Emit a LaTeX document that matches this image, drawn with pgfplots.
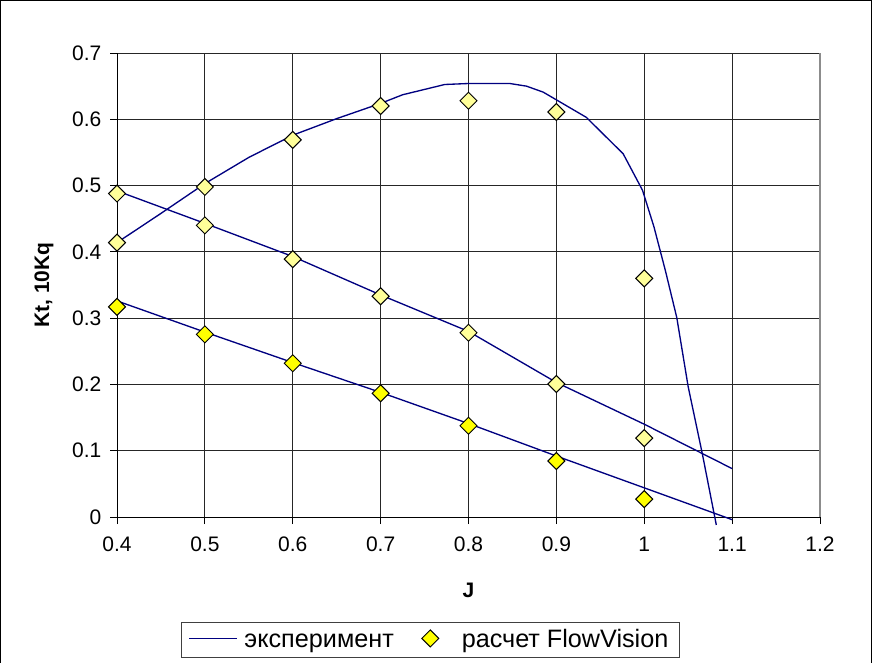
\documentclass[border=0pt]{standalone}
\usepackage{fontspec}
\setmainfont{Liberation Sans}
\usepackage{pgfplots}
\pgfplotsset{compat=1.18}
\definecolor{navyline}{RGB}{0,0,128}
\definecolor{brightyel}{RGB}{255,255,0}
\definecolor{paleyel}{RGB}{255,255,153}
\begin{document}
\fontsize{15.75}{18}\selectfont
\begin{tikzpicture}[x=1pt,y=1pt]
\path[use as bounding box] (0,0) rectangle (654,496.5);
\draw[line width=0.75pt] (0.6,-5) -- (0.6,495.9) -- (653.4,495.9) -- (653.4,-5);
\begin{axis}[
  at={(87.75pt,108.75pt)}, anchor=south west,
  scale only axis, width=527.25pt, height=348pt,
  xmin=0.4, xmax=1.2, ymin=0, ymax=0.7,
  clip=false,
  axis lines*=left,
  axis line style={black, line width=0.75pt},
  xtick={0.4,0.5,0.6,0.7,0.8,0.9,1.0,1.1,1.2},
  xticklabels={0.4,0.5,0.6,0.7,0.8,0.9,1,1.1,1.2},
  ytick={0,0.1,0.2,0.3,0.4,0.5,0.6,0.7},
  yticklabels={0,0.1,0.2,0.3,0.4,0.5,0.6,0.7},
  tick align=outside,
  major tick length=5.25pt,
  tick style={black, line width=0.75pt},
  grid=major,
  major grid style={black!85, line width=0.75pt},
  ticklabel style={font=\fontsize{15.75}{18}\selectfont},
  xticklabel style={anchor=north, yshift=-4pt},
  yticklabel style={anchor=east, xshift=-1pt},
  xlabel={\textbf{J}},
  ylabel={\textbf{Kt, 10Kq}},
  xlabel style={at={(axis description cs:0.5,-0.1573)}, anchor=center, font=\fontsize{15.75}{18}\selectfont},
  ylabel style={at={(axis description cs:-0.1038,0.5)}, anchor=center, font=\fontsize{15.75}{18}\selectfont},
  legend columns=2,
  legend style={at={(axis description cs:0.091,-0.2263)}, anchor=north west,
    draw=black!75, line width=0.75pt, font=\fontsize{18.9}{22}\selectfont,
    inner xsep=0pt, inner ysep=5pt,
    nodes={inner sep=0pt, anchor=base west},
    /tikz/column sep=0pt},
]
% experiment Kt
\addplot[navyline, line width=1pt, legend image code/.code={\path (-5.5pt,6.75pt) (40.75pt,6.75pt); \draw[navyline, line width=1pt] (0pt,6.75pt) -- (35.5pt,6.75pt);}] coordinates {
(0.4,0.414) (0.45,0.458) (0.5,0.503) (0.55,0.5425) (0.6,0.576) (0.65,0.601) (0.7,0.624)
(0.725,0.637) (0.773,0.6525) (0.8,0.654) (0.847,0.654) (0.866,0.650) (0.885,0.641)
(0.934,0.603) (0.976,0.548) (0.998,0.493) (1.011,0.438) (1.024,0.372) (1.037,0.301)
(1.05,0.1965) (1.066,0.096) (1.082,-0.012)};
\addlegendentry{эксперимент}
% experiment 10Kq (upper straight)
\addplot[navyline, line width=1pt, forget plot] coordinates {
(0.4,0.492) (0.5,0.443) (0.6,0.393) (0.7,0.335) (0.8,0.280) (0.9,0.203) (1.0,0.140) (1.1,0.073)};
% experiment lower line
\addplot[navyline, line width=1pt, forget plot] coordinates {
(0.4,0.326) (0.5,0.279) (0.6,0.233) (0.7,0.188) (0.8,0.141) (0.9,0.092) (1.0,0.044) (1.1,-0.004)};
% FlowVision lower (bright)
\addplot[only marks, mark=square*, mark size=4.5pt, mark options={rotate=45, fill=brightyel, draw=black, line width=0.75pt},
  legend image code/.code={\path (-27pt,6.75pt) (23.25pt,6.75pt); \draw[mark=square*, mark size=4.5pt, mark options={rotate=45, fill=brightyel, draw=black, line width=0.75pt}] plot coordinates {(0pt,6.75pt)};}] coordinates {
(0.4,0.317) (0.5,0.2755) (0.6,0.232) (0.7,0.1866) (0.8,0.1377) (0.9,0.0845) (1.0,0.027)};
\addlegendentry{расчет FlowVision\kern8.25pt}
% FlowVision Kt (pale)
\addplot[only marks, forget plot, mark=square*, mark size=4.5pt, mark options={rotate=45, fill=paleyel, draw=black, line width=0.75pt}] coordinates {
(0.4,0.414) (0.5,0.498) (0.6,0.569) (0.7,0.620) (0.8,0.628) (0.9,0.611) (1.0,0.360)};
% FlowVision 10Kq (pale)
\addplot[only marks, forget plot, mark=square*, mark size=4.5pt, mark options={rotate=45, fill=paleyel, draw=black, line width=0.75pt}] coordinates {
(0.4,0.488) (0.5,0.440) (0.6,0.389) (0.7,0.333) (0.8,0.278) (0.9,0.2006) (1.0,0.119)};
\draw[black!45, line width=1.5pt] (rel axis cs:1,0) -- (rel axis cs:1,1);
\end{axis}
\end{tikzpicture}
\end{document}
